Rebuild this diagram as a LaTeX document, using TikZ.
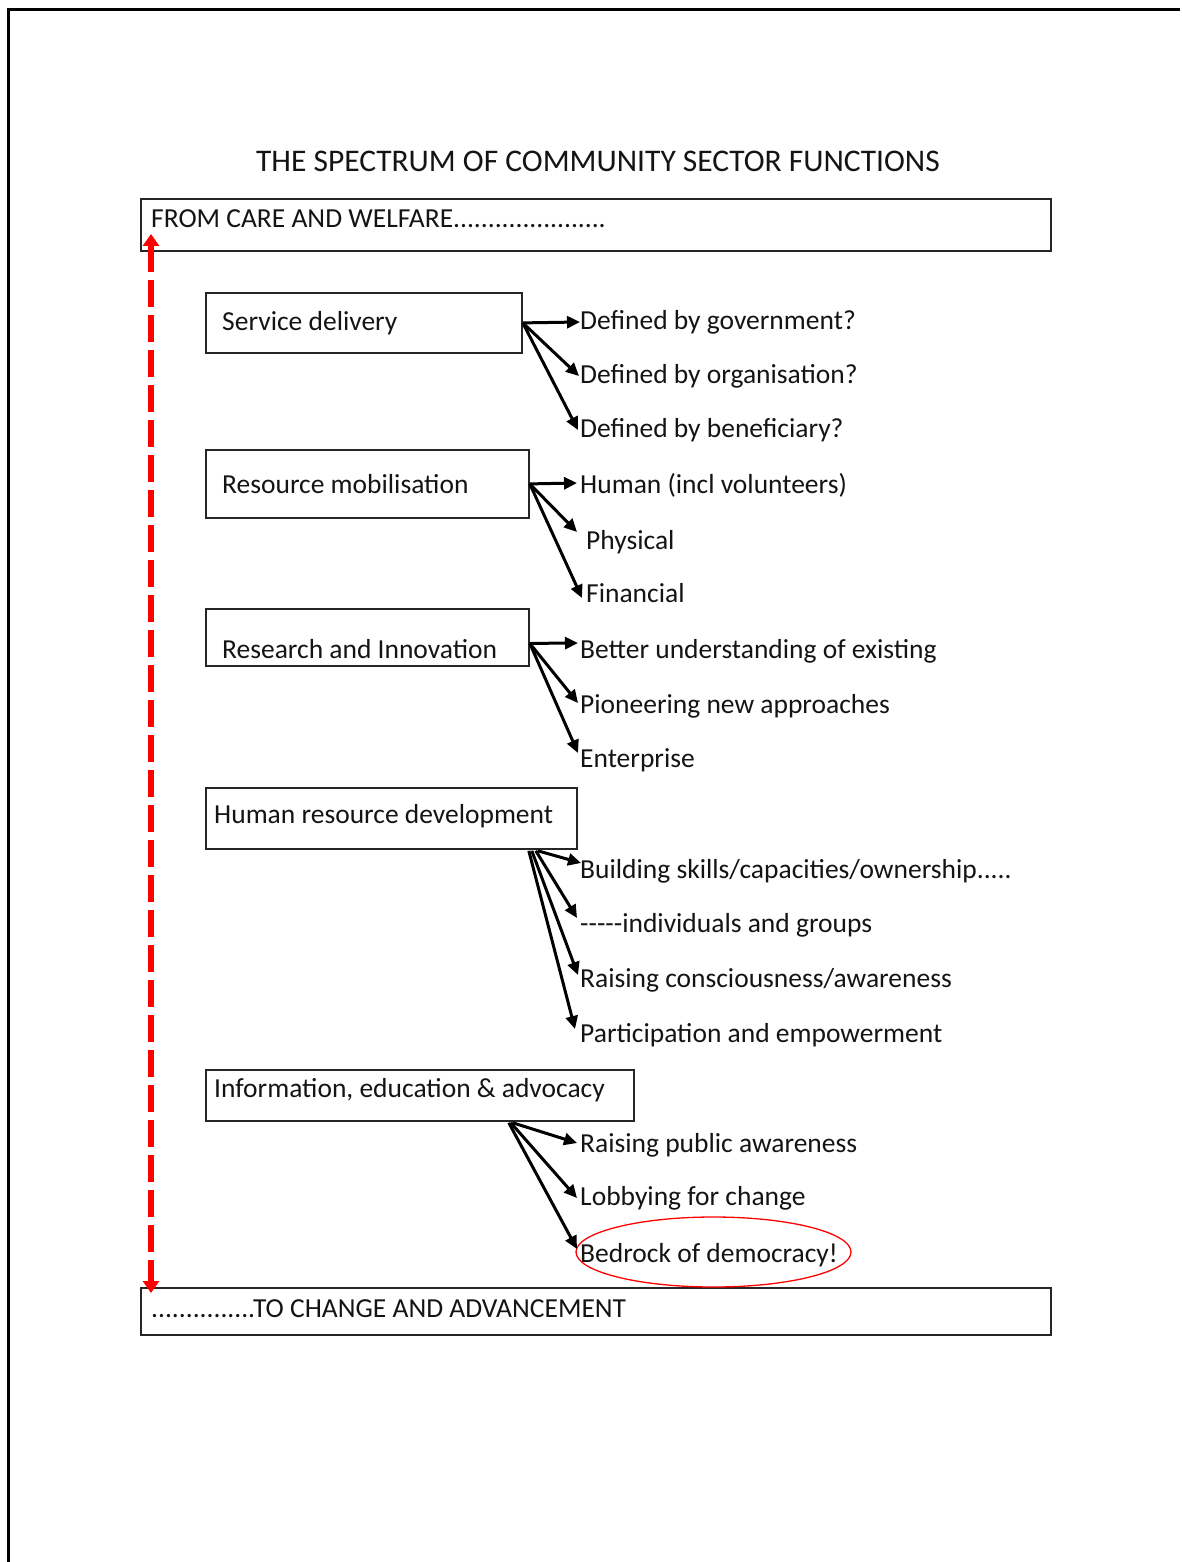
\documentclass[tikz,border=0pt]{standalone}
\usepackage{fontspec}
\setmainfont{Carlito}
\usetikzlibrary{arrows.meta,shapes.geometric}
\newcommand{\hy}{\hbox{-}}
\begin{document}
\begin{tikzpicture}[x=1pt,y=-1pt,
  box/.style={draw=black!85,line width=1.8pt,inner sep=0pt,anchor=north west},
  lbl/.style={font=\fontsize{27.5}{32}\selectfont,text=black!92,inner sep=0pt,anchor=base west,text height=20pt,text depth=6pt},
  ttl/.style={font=\fontsize{31.5}{36}\selectfont,text=black!92,inner sep=0pt,anchor=base},
  arr/.style={line width=3pt,-{Triangle[length=13pt,width=12pt]}},
  redarr/.style={draw=red,line width=5.5pt,dash pattern=on 27pt off 8pt,{Triangle[length=12pt,width=16pt]}-{Triangle[length=12pt,width=16pt]}},
  ring/.style={draw=red,line width=1.3pt,ellipse,inner sep=0pt}
]
\useasboundingbox (0,0) rectangle (1181,1562);
\fill[white] (0,0) rectangle (1181,1562);
\draw[line width=3pt] (8,1562) -- (8,10) -- (1180,10);

\node[ttl] (title) at (598,172) {THE SPECTRUM OF COMMUNITY SECTOR FUNCTIONS};

% outer boxes
\node[box,minimum width=910pt,minimum height=52pt] (top) at (140,198) {};
\node[lbl] (toptxt) at (151,228) {FROM CARE AND WELFARE......................};
\node[box,minimum width=910pt,minimum height=47pt] (bot) at (140,1287) {};
\node[lbl] (bottxt) at (151,1317) {...............TO CHANGE AND ADVANCEMENT};

% function boxes
\node[box,minimum width=316pt,minimum height=60pt] (b1) at (205,292) {};
\node[lbl] (t1) at (222,330) {Service delivery};
\node[box,minimum width=323pt,minimum height=68pt] (b2) at (205,449) {};
\node[lbl] (t2) at (222,493) {Resource mobilisation};
\node[box,minimum width=323pt,minimum height=57pt] (b3) at (205,608) {};
\node[lbl] (t3) at (222,658) {Research and Innovation};
\node[box,minimum width=371pt,minimum height=61pt] (b4) at (205,787) {};
\node[lbl] (t4) at (214,823) {Human resource development};
\node[box,minimum width=428pt,minimum height=51pt] (b5) at (205,1069) {};
\node[lbl] (t5) at (214,1097) {Information, education \& advocacy};

% items
\node[lbl] (i11) at (580,329) {Defined by government?};
\node[lbl] (i12) at (580,383) {Defined by organisation?};
\node[lbl] (i13) at (580,437) {Defined by beneficiary?};
\node[lbl] (i21) at (580,493) {Human (incl volunteers)};
\node[lbl] (i22) at (586,549) {Physical};
\node[lbl] (i23) at (586,602) {Financial};
\node[lbl] (i31) at (580,658) {Better understanding of existing};
\node[lbl] (i32) at (580,713) {Pioneering new approaches};
\node[lbl] (i33) at (580,767) {Enterprise};
\node[lbl] (i41) at (580,878) {Building skills/capacities/ownership.....};
\node[lbl] (i42) at (580,932) {\hy\hy\hy\hy\hy individuals and groups};
\node[lbl] (i43) at (580,987) {Raising consciousness/awareness};
\node[lbl] (i44) at (580,1042) {Participation and empowerment};
\node[lbl] (i51) at (580,1152) {Raising public awareness};
\node[lbl] (i52) at (580,1205) {Lobbying for change};
\node[lbl] (i53) at (580,1262) {Bedrock of democracy!};

\node[ring,minimum width=275pt,minimum height=70pt] (ell) at (713.5,1252) {};

% connectors
\draw[arr] (b1.east) -- (i11.west);
\draw[arr] (b1.east) -- ([xshift=-1pt]i12.west);
\draw[arr] (b1.east) -- ([xshift=-2pt]i13.west);

\draw[arr] (b2.east) -- ([xshift=-3pt,yshift=3pt]i21.west);
\draw[arr] (b2.east) -- ([xshift=-9pt,yshift=10pt]i22.west);
\draw[arr] (b2.east) -- ([xshift=-4pt,yshift=-3pt]i23.west);

\draw[arr] ([yshift=-6pt]b3.east) -- ([xshift=-2pt,yshift=8pt]i31.west);
\draw[arr] ([yshift=-6pt]b3.east) -- ([xshift=-2pt,yshift=3pt]i32.west);
\draw[arr] ([yshift=-6pt]b3.east) -- ([xshift=-2pt,yshift=7pt]i33.west);

\draw[arr] ([xshift=-40pt,yshift=-1pt]b4.south east) -- ([xshift=1pt,yshift=8pt]i41.west);
\draw[arr] ([xshift=-42pt,yshift=-1pt]b4.south east) -- ([xshift=-3pt,yshift=7pt]i42.west);
\draw[arr] ([xshift=-46pt,yshift=-1pt]b4.south east) -- ([xshift=-2pt,yshift=5pt]i43.west);
\draw[arr] ([xshift=-49pt,yshift=-1pt]b4.south east) -- ([xshift=-5pt,yshift=6pt]i44.west);

\draw[arr] ([xshift=-122pt,yshift=-1pt]b5.south east) -- ([xshift=-3pt,yshift=2pt]i51.west);
\draw[arr] ([xshift=-124pt,yshift=-1pt]b5.south east) -- ([xshift=-3pt]i52.west);
\draw[arr] ([xshift=-126pt,yshift=-1pt]b5.south east) -- ([xshift=-3pt,yshift=6pt]i53.west);

% spectrum arrow
\coordinate (rtop) at (151,234);
\coordinate (rbot) at (151,1293);
\draw[redarr] (rtop) -- (rbot);
\end{tikzpicture}
\end{document}
